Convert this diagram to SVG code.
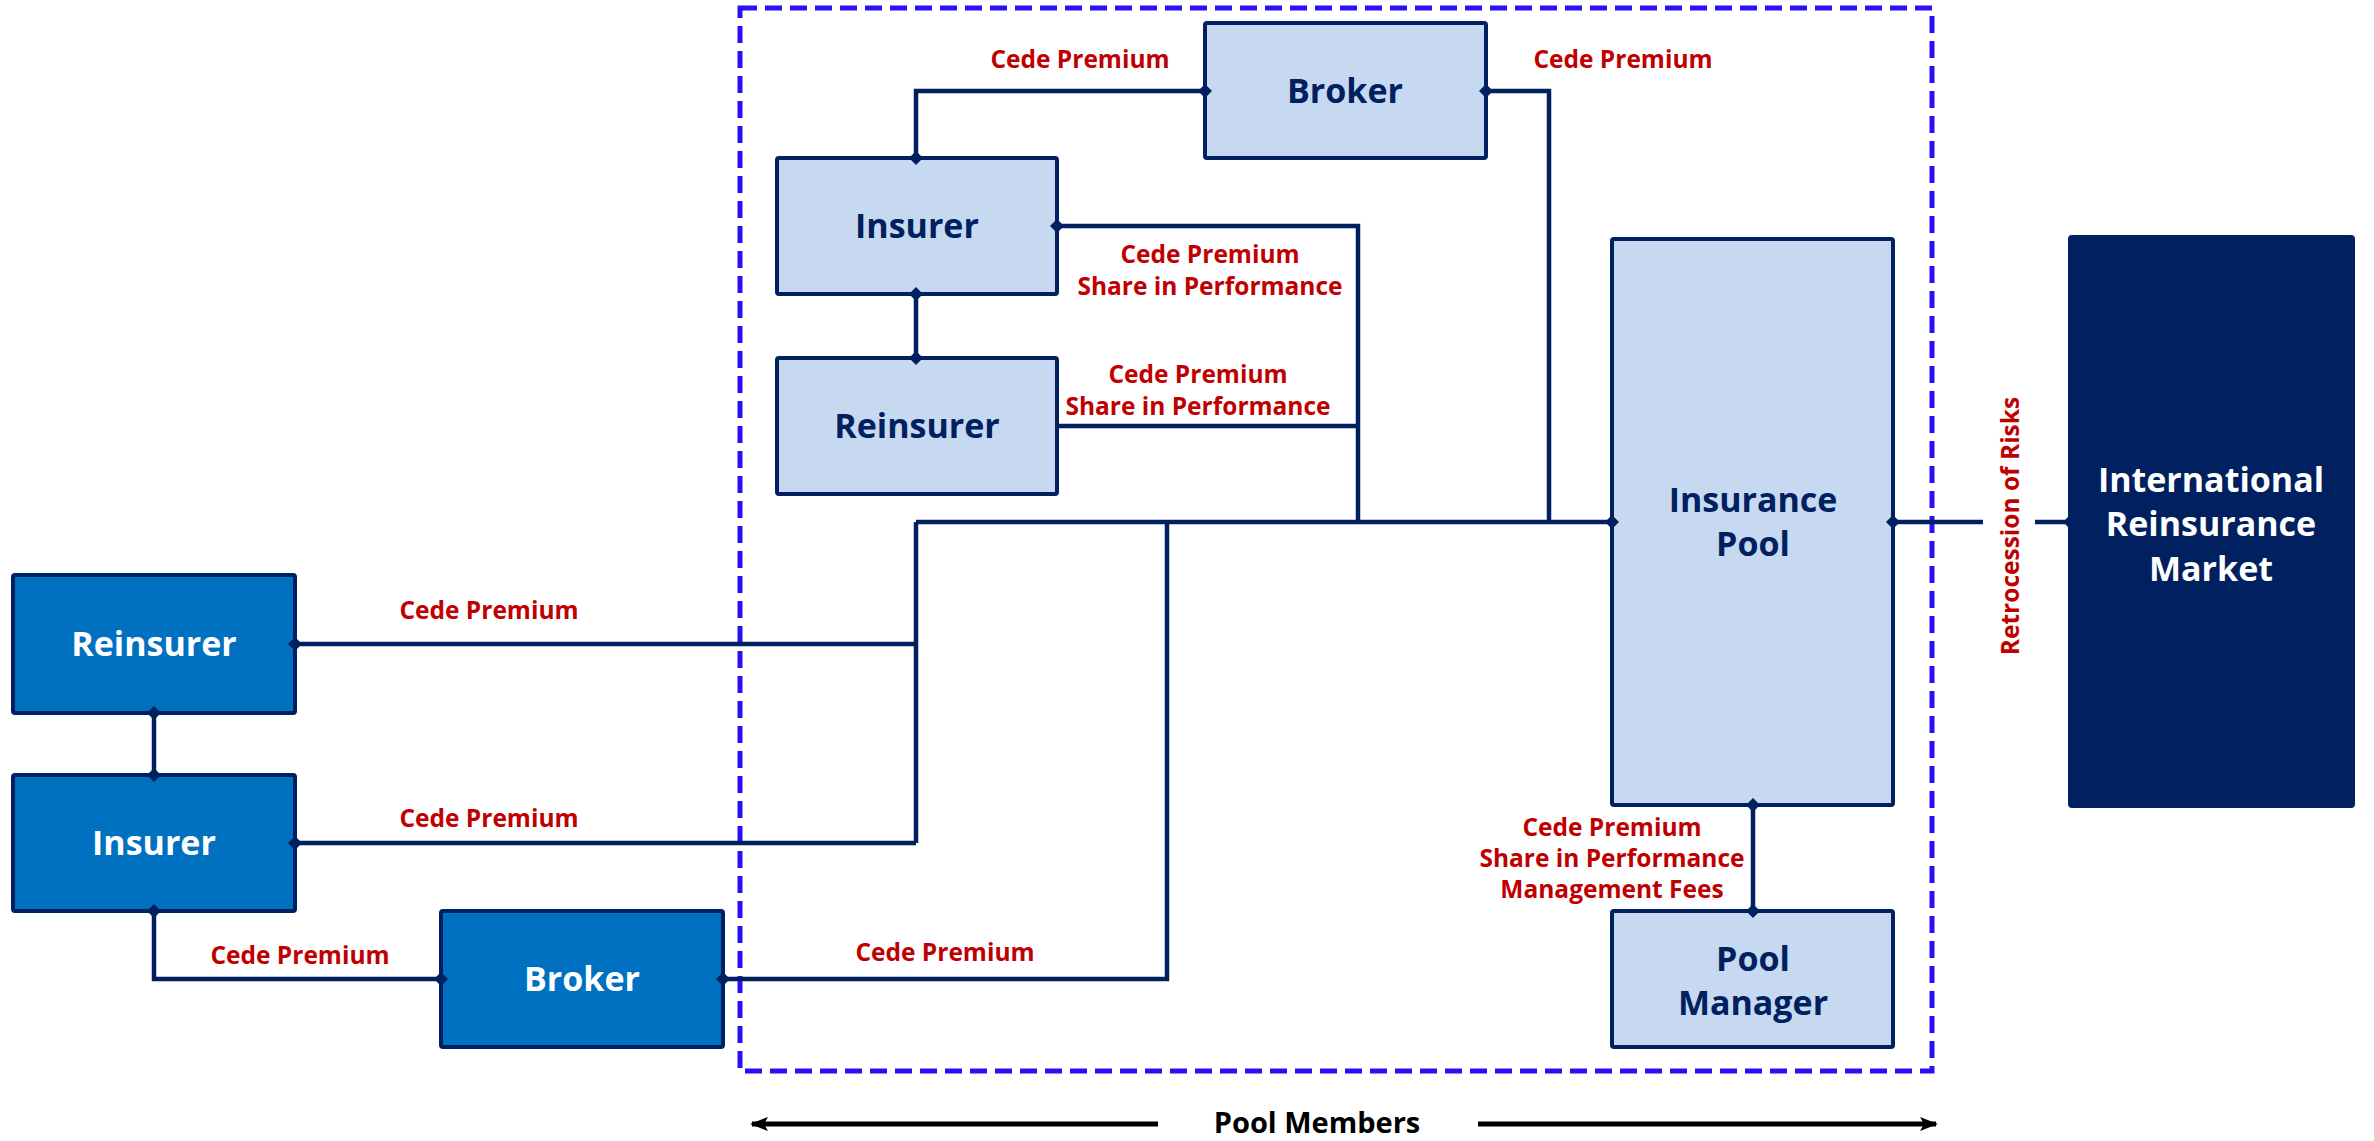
<svg xmlns="http://www.w3.org/2000/svg" width="2374" height="1141" viewBox="0 0 2374 1141">
  <defs>
    <style>
      .light { fill: #C6D9F0; stroke: #002060; stroke-width: 4; }
      .mid { fill: #0070C0; stroke: #002060; stroke-width: 4; }
      .dark { fill: #002060; stroke: #002060; stroke-width: 4; }
      .tdark { font-family: "Open Sans", "Noto Sans", sans-serif; font-weight: 700; font-size: 34px; fill: #002060; text-anchor: middle; }
      .twhite { font-family: "Open Sans", "Noto Sans", sans-serif; font-weight: 700; font-size: 34px; fill: #FFFFFF; text-anchor: middle; }
      .lbl { font-family: "Open Sans", "Noto Sans", sans-serif; font-weight: 700; font-size: 24.5px; fill: #C00000; text-anchor: middle; }
      .conn { fill: none; stroke: #002060; stroke-width: 4.5; stroke-linejoin: miter; }
      .frame { fill: none; stroke: #2B10F5; stroke-width: 5; stroke-dasharray: 17 8; }
      .arrow { fill: none; stroke: #000000; stroke-width: 5; }
      .pm { font-family: "Open Sans", "Noto Sans", sans-serif; font-weight: 700; font-size: 29px; fill: #000000; text-anchor: middle; }
    </style>
    <marker id="dia" viewBox="-7 -7 14 14" markerUnits="userSpaceOnUse" markerWidth="14" markerHeight="14" refX="0" refY="0" orient="auto">
      <path d="M -7 0 L 0 -7 L 7 0 L 0 7 Z" fill="#002060"/>
    </marker>
    <marker id="ah" viewBox="0 -7 18 14" markerUnits="userSpaceOnUse" markerWidth="18" markerHeight="14" refX="16" refY="0" orient="auto-start-reverse">
      <path d="M 0 -7 L 18 0 L 0 7 L 4 0 Z" fill="#000000"/>
    </marker>
  </defs>

  <rect width="2374" height="1141" fill="#FFFFFF"/>

  <!-- Pool members frame -->
  <g id="pool-members-frame">
    <rect class="frame" x="740" y="8" width="1192" height="1063"/>
  </g>

  <!-- Nodes -->
  <g id="node-broker-member">
    <rect class="light" x="1205" y="23" width="281" height="135" rx="2"/>
    <text class="tdark" x="1345" y="103">Broker</text>
  </g>
  <g id="node-insurer-member">
    <rect class="light" x="777" y="158" width="280" height="136" rx="2"/>
    <text class="tdark" x="917" y="238">Insurer</text>
  </g>
  <g id="node-reinsurer-member">
    <rect class="light" x="777" y="358" width="280" height="136" rx="2"/>
    <text class="tdark" x="917" y="438">Reinsurer</text>
  </g>
  <g id="node-insurance-pool">
    <rect class="light" x="1612" y="239" width="281" height="566" rx="2"/>
    <text class="tdark" x="1753" y="512">Insurance</text>
    <text class="tdark" x="1753" y="556">Pool</text>
  </g>
  <g id="node-pool-manager">
    <rect class="light" x="1612" y="911" width="281" height="136" rx="2"/>
    <text class="tdark" x="1753" y="971">Pool</text>
    <text class="tdark" x="1753" y="1015">Manager</text>
  </g>
  <g id="node-international-market">
    <rect class="dark" x="2070" y="237" width="283" height="569" rx="2"/>
    <text class="twhite" x="2211" y="492">International</text>
    <text class="twhite" x="2211" y="536">Reinsurance</text>
    <text class="twhite" x="2211" y="581">Market</text>
  </g>
  <g id="node-reinsurer-external">
    <rect class="mid" x="13" y="575" width="282" height="138" rx="2"/>
    <text class="twhite" x="154" y="656">Reinsurer</text>
  </g>
  <g id="node-insurer-external">
    <rect class="mid" x="13" y="775" width="282" height="136" rx="2"/>
    <text class="twhite" x="154" y="855">Insurer</text>
  </g>
  <g id="node-broker-external">
    <rect class="mid" x="441" y="911" width="282" height="136" rx="2"/>
    <text class="twhite" x="582" y="991">Broker</text>
  </g>

  <!-- Connectors -->
  <g id="connectors">
    <path class="conn" d="M 916 158 L 916 91 L 1205 91" marker-start="url(#dia)" marker-end="url(#dia)"/>
    <path class="conn" d="M 1486 91 L 1549 91 L 1549 522" marker-start="url(#dia)"/>
    <path class="conn" d="M 1057 226 L 1358 226 L 1358 522" marker-start="url(#dia)"/>
    <path class="conn" d="M 916 294 L 916 358" marker-start="url(#dia)" marker-end="url(#dia)"/>
    <path class="conn" d="M 1057 426 L 1358 426"/>
    <path class="conn" d="M 916 522 L 1612 522" marker-end="url(#dia)"/>
    <path class="conn" d="M 916 522 L 916 843"/>
    <path class="conn" d="M 295 644 L 916 644" marker-start="url(#dia)"/>
    <path class="conn" d="M 295 843 L 916 843" marker-start="url(#dia)"/>
    <path class="conn" d="M 154 713 L 154 775" marker-start="url(#dia)" marker-end="url(#dia)"/>
    <path class="conn" d="M 154 911 L 154 979 L 441 979" marker-start="url(#dia)" marker-end="url(#dia)"/>
    <path class="conn" d="M 723 979 L 1167 979 L 1167 522" marker-start="url(#dia)"/>
    <path class="conn" d="M 1893 522 L 1983 522" marker-start="url(#dia)"/>
    <path class="conn" d="M 2035 522 L 2070 522" marker-end="url(#dia)"/>
    <path class="conn" d="M 1753 805 L 1753 911" marker-start="url(#dia)" marker-end="url(#dia)"/>

    <text class="lbl" x="1080" y="68">Cede Premium</text>
    <text class="lbl" x="1623" y="68">Cede Premium</text>
    <text class="lbl" x="1210" y="263">Cede Premium</text>
    <text class="lbl" x="1210" y="295">Share in Performance</text>
    <text class="lbl" x="1198" y="383">Cede Premium</text>
    <text class="lbl" x="1198" y="415">Share in Performance</text>
    <text class="lbl" x="489" y="619">Cede Premium</text>
    <text class="lbl" x="489" y="827">Cede Premium</text>
    <text class="lbl" x="300" y="964">Cede Premium</text>
    <text class="lbl" x="945" y="961">Cede Premium</text>
    <text class="lbl" x="1612" y="836">Cede Premium</text>
    <text class="lbl" x="1612" y="867">Share in Performance</text>
    <text class="lbl" x="1612" y="898">Management Fees</text>
    <text class="lbl" x="2019" y="526" transform="rotate(-90 2019 526)">Retrocession of Risks</text>
  </g>

  <!-- Pool Members caption -->
  <g id="pool-members-label">
    <path class="arrow" d="M 1158 1124 L 752 1124" marker-end="url(#ah)"/>
    <path class="arrow" d="M 1478 1124 L 1936 1124" marker-end="url(#ah)"/>
    <text class="pm" x="1317" y="1133">Pool Members</text>
  </g>
</svg>
